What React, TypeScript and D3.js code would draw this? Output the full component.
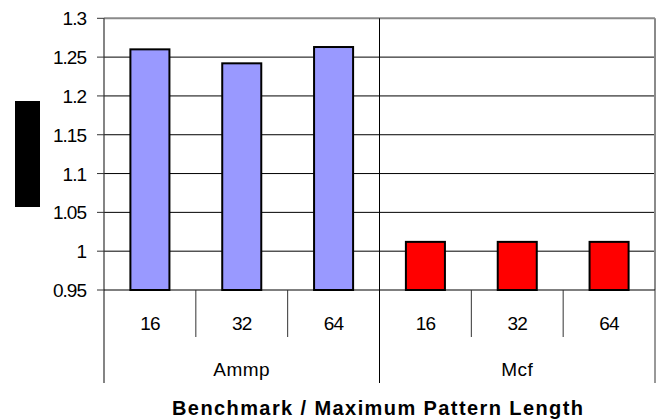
import React from "react";
import * as d3 from "d3";

const groups = ["Ammp", "Mcf"];
const lengths = ["16", "32", "64"];
const ammpValues = [1.26, 1.242, 1.263];
const mcfValues = [1.012, 1.012, 1.012];
const yTicks = [0.95, 1.0, 1.05, 1.1, 1.15, 1.2, 1.25, 1.3];
const groupColors = ["#9999FF", "#FF0000"];
const xTitle = "Benchmark / Maximum Pattern Length";

const W = 657;
const H = 419;
const left = 104;
const right = 655;
const top = 18.3;
const bottom = 290;

export default function App() {
  const seriesValues = [ammpValues, mcfValues];
  const rows = groups.flatMap((g, gi) =>
    lengths.map((l, li) => ({ key: `${g}-${l}`, group: g, gi, len: l, value: seriesValues[gi][li] }))
  );
  const x = d3.scaleBand<string>().domain(rows.map((r) => r.key)).range([left, right]).padding(0);
  const y = d3.scaleLinear().domain([0.95, 1.3]).range([bottom, top]);
  const bw = x.bandwidth();
  const barW = bw * 0.425;
  const groupX = d3.scaleBand<string>().domain(groups).range([left, right]).padding(0);
  const font = "'Liberation Sans', Arial, sans-serif";

  return (
    <svg width={W} height={H} style={{ position: "absolute", left: 0, top: 0, background: "#fff" }}>
      {/* redacted y-axis title */}
      <rect x={15} y={101} width={25} height={106} fill="#000" />
      {/* gridlines */}
      {yTicks.slice(1, -1).map((t) => (
        <line key={t} x1={left} x2={right} y1={y(t)} y2={y(t)} stroke="#000" strokeWidth={1} />
      ))}
      {/* plot border top/right */}
      <line x1={left} x2={right} y1={y(1.3)} y2={y(1.3)} stroke="#8a8a8a" strokeWidth={2} />
      <line x1={right} x2={right} y1={y(1.3)} y2={bottom} stroke="#8a8a8a" strokeWidth={2} />
      {/* group separator */}
      <line x1={groupX("Mcf")!} x2={groupX("Mcf")!} y1={top} y2={383} stroke="#000" strokeWidth={1} />
      {/* bars */}
      {rows.map((r) => (
        <rect
          key={r.key}
          x={x(r.key)! + (bw - barW) / 2}
          y={y(r.value)}
          width={barW}
          height={bottom - y(r.value)}
          fill={groupColors[r.gi]}
          stroke="#000"
          strokeWidth={2}
        />
      ))}
      {/* y axis */}
      <line x1={left} x2={left} y1={top} y2={383} stroke="#333" strokeWidth={1.2} />
      {yTicks.map((t) => (
        <g key={t}>
          <line x1={97} x2={left} y1={y(t)} y2={y(t)} stroke="#333" strokeWidth={1} />
          <text
            x={86}
            y={y(t) + 7}
            textAnchor="end"
            fontFamily={font}
            fontSize={19}
            letterSpacing={-1}
            fill="#000"
          >
            {d3.format("")(+t.toFixed(2))}
          </text>
        </g>
      ))}
      {/* x axis line */}
      <line x1={left} x2={right} y1={bottom} y2={bottom} stroke="#000" strokeWidth={1.2} />
      {/* category separators */}
      {rows.map((r, i) =>
        i % 3 !== 0 ? (
          <line key={"s" + r.key} x1={x(r.key)!} x2={x(r.key)!} y1={bottom} y2={337} stroke="#333" strokeWidth={1} />
        ) : null
      )}
      <line x1={right} x2={right} y1={bottom} y2={383} stroke="#333" strokeWidth={1} />
      {/* category labels */}
      {rows.map((r) => (
        <text
          key={"l" + r.key}
          x={x(r.key)! + bw / 2}
          y={330}
          textAnchor="middle"
          fontFamily={font}
          fontSize={19}
          letterSpacing={-0.8}
          fill="#000"
        >
          {r.len}
        </text>
      ))}
      {groups.map((g) => (
        <text
          key={"g" + g}
          x={groupX(g)! + groupX.bandwidth() / 2}
          y={376}
          textAnchor="middle"
          fontFamily={font}
          fontSize={19}
          letterSpacing={0.5}
          fill="#000"
        >
          {g}
        </text>
      ))}
      <text
        x={172}
        y={415}
        fontFamily={font}
        fontSize={20}
        fontWeight="bold"
        textLength={411}
        lengthAdjust="spacing"
        fill="#000"
      >
        {xTitle}
      </text>
    </svg>
  );
}
